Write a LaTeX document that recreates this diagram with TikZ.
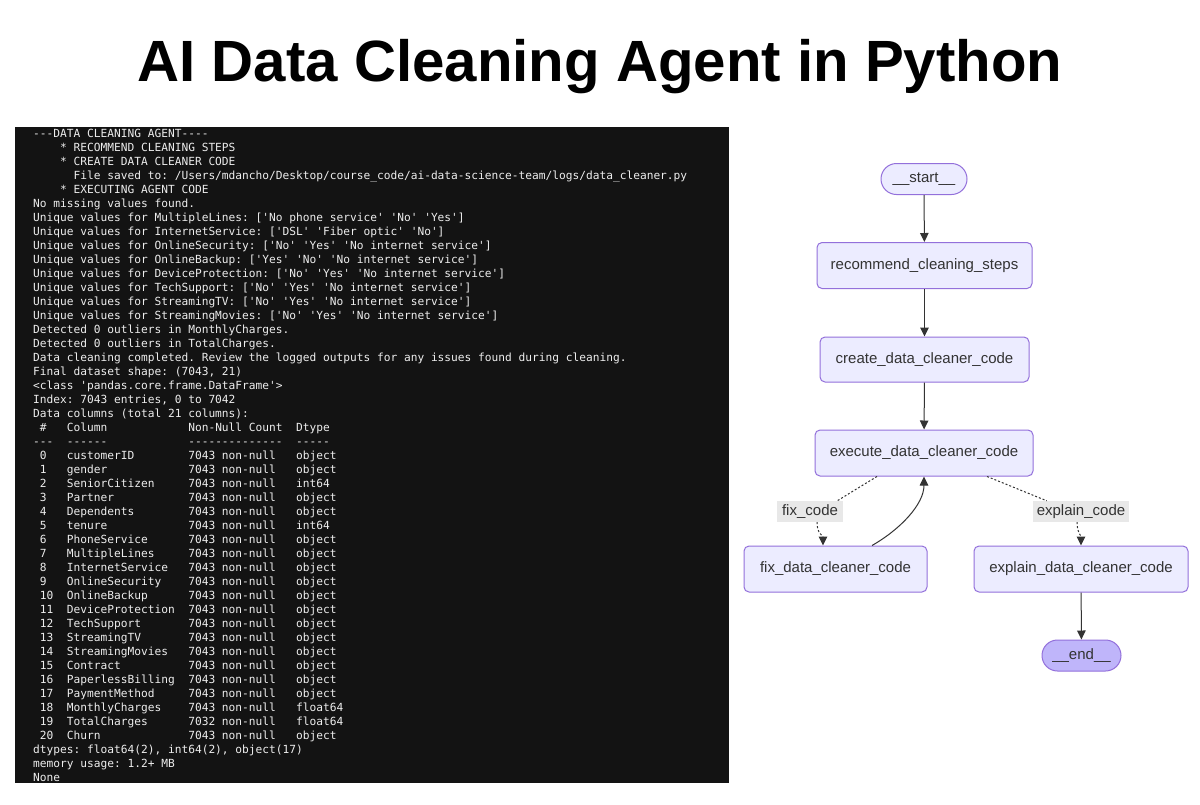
\documentclass[tikz,border=0pt]{standalone}
\usepackage{fontspec}
\setmainfont{Liberation Sans}
\setmonofont{DejaVu Sans Mono}
\usetikzlibrary{arrows.meta}
\definecolor{termbg}{HTML}{131313}
\definecolor{termfg}{HTML}{EDEDED}
\definecolor{nodefill}{HTML}{ECECFF}
\definecolor{nodedraw}{HTML}{9370DB}
\definecolor{endfill}{HTML}{BFB5FA}
\definecolor{edgec}{HTML}{333333}
\definecolor{txtc}{HTML}{333333}
\definecolor{lblfill}{HTML}{E8E8E8}
\newcommand\sk[1]{\hspace*{#1\fontcharwd\font`\0}}
\begin{document}
\begin{tikzpicture}[x=1pt,y=-1pt,
  logline/.style={anchor=base west, inner sep=0pt, text=termfg, font=\ttfamily\fontsize{11.2}{14}\selectfont},
  gbox/.style={draw=nodedraw, fill=nodefill, line width=1pt, rounded corners=5pt, text=txtc,
    font=\fontsize{15}{18}\selectfont, inner sep=0pt, minimum height=46pt},
  gterm/.style={gbox, rounded corners=15.5pt, minimum height=31pt},
  edge/.style={draw=edgec, line width=1pt, -{Triangle[length=9pt,width=8.5pt]}},
  cond/.style={edge, dash pattern=on 2pt off 2pt},
  elabel/.style={fill=lblfill, text=txtc, font=\fontsize{15}{18}\selectfont, inner sep=0pt, minimum height=21pt}
]
\useasboundingbox (0,0) rectangle (1200,804);
\fill[white] (0,0) rectangle (1200,804);

% title
\node[anchor=base, inner sep=0pt, font=\fontsize{58.2}{60}\selectfont\bfseries] (title) at (600,81) {AI Data Cleaning Agent in Python};

% terminal
\fill[termbg] (15,127) rectangle (729,783);
\foreach \t [count=\i] in {
{---DATA CLEANING AGENT----},
{\sk{4}* RECOMMEND CLEANING STEPS},
{\sk{4}* CREATE DATA CLEANER CODE},
{\sk{6}File saved to: /Users/mdancho/Desktop/course\_code/ai-data-science-team/logs/data\_cleaner.py},
{\sk{4}* EXECUTING AGENT CODE},
{No missing values found.},
{Unique values for MultipleLines: ['No phone service' 'No' 'Yes']},
{Unique values for InternetService: ['DSL' 'Fiber optic' 'No']},
{Unique values for OnlineSecurity: ['No' 'Yes' 'No internet service']},
{Unique values for OnlineBackup: ['Yes' 'No' 'No internet service']},
{Unique values for DeviceProtection: ['No' 'Yes' 'No internet service']},
{Unique values for TechSupport: ['No' 'Yes' 'No internet service']},
{Unique values for StreamingTV: ['No' 'Yes' 'No internet service']},
{Unique values for StreamingMovies: ['No' 'Yes' 'No internet service']},
{Detected 0 outliers in MonthlyCharges.},
{Detected 0 outliers in TotalCharges.},
{Data cleaning completed. Review the logged outputs for any issues found during cleaning.},
{Final dataset shape: (7043, 21)},
{<class 'pandas.core.frame.DataFrame'>},
{Index: 7043 entries, 0 to 7042},
{Data columns (total 21 columns):},
{\sk{1}\#\sk{3}Column\sk{12}Non-Null Count\sk{2}Dtype},
{---\sk{2}------\sk{12}--------------\sk{2}-----},
{\sk{1}0\sk{3}customerID\sk{8}7043 non-null\sk{3}object},
{\sk{1}1\sk{3}gender\sk{12}7043 non-null\sk{3}object},
{\sk{1}2\sk{3}SeniorCitizen\sk{5}7043 non-null\sk{3}int64},
{\sk{1}3\sk{3}Partner\sk{11}7043 non-null\sk{3}object},
{\sk{1}4\sk{3}Dependents\sk{8}7043 non-null\sk{3}object},
{\sk{1}5\sk{3}tenure\sk{12}7043 non-null\sk{3}int64},
{\sk{1}6\sk{3}PhoneService\sk{6}7043 non-null\sk{3}object},
{\sk{1}7\sk{3}MultipleLines\sk{5}7043 non-null\sk{3}object},
{\sk{1}8\sk{3}InternetService\sk{3}7043 non-null\sk{3}object},
{\sk{1}9\sk{3}OnlineSecurity\sk{4}7043 non-null\sk{3}object},
{\sk{1}10\sk{2}OnlineBackup\sk{6}7043 non-null\sk{3}object},
{\sk{1}11\sk{2}DeviceProtection\sk{2}7043 non-null\sk{3}object},
{\sk{1}12\sk{2}TechSupport\sk{7}7043 non-null\sk{3}object},
{\sk{1}13\sk{2}StreamingTV\sk{7}7043 non-null\sk{3}object},
{\sk{1}14\sk{2}StreamingMovies\sk{3}7043 non-null\sk{3}object},
{\sk{1}15\sk{2}Contract\sk{10}7043 non-null\sk{3}object},
{\sk{1}16\sk{2}PaperlessBilling\sk{2}7043 non-null\sk{3}object},
{\sk{1}17\sk{2}PaymentMethod\sk{5}7043 non-null\sk{3}object},
{\sk{1}18\sk{2}MonthlyCharges\sk{4}7043 non-null\sk{3}float64},
{\sk{1}19\sk{2}TotalCharges\sk{6}7032 non-null\sk{3}float64},
{\sk{1}20\sk{2}Churn\sk{13}7043 non-null\sk{3}object},
{dtypes: float64(2), int64(2), object(17)},
{memory usage: 1.2+ MB},
{None}}
  \node[logline] (l\i) at (33,{137+14.0*(\i-1)}) {\t};

% graph nodes
\node[gterm, minimum width=86pt] (start) at (924,179) {\_\_start\_\_};
\node[gbox, minimum width=215pt] (rec) at (924.5,265.5) {recommend\_cleaning\_steps};
\node[gbox, minimum width=209pt, minimum height=45pt] (create) at (924.5,359.5) {create\_data\_cleaner\_code};
\node[gbox, minimum width=218pt] (exec) at (924,453) {execute\_data\_cleaner\_code};
\node[gbox, minimum width=183pt] (fix) at (835.5,569) {fix\_data\_cleaner\_code};
\node[gbox, minimum width=214pt] (expl) at (1081,569) {explain\_data\_cleaner\_code};
\node[gterm, fill=endfill, minimum width=79pt] (end) at (1081.5,655.5) {\_\_end\_\_};

% edge labels
\node[elabel, minimum width=66pt] (fixl) at (810,511.5) {fix\_code};
\node[elabel, minimum width=96pt] (explainl) at (1081,511.5) {explain\_code};

% edges
\draw[edge] (start) -- (rec);
\draw[edge] (rec) -- (create);
\draw[edge] (create) -- (exec);
\draw[edge] (expl) -- (end);
\draw[cond, -] ([xshift=-47pt]exec.south) .. controls +(-15,9) and +(10,-6) .. ([xshift=-6pt]fixl.north east);
\draw[cond] ([xshift=7pt]fixl.south) .. controls +(0,12) and +(0,-10) .. ([xshift=-12.5pt]fix.north);
\draw[cond, -] ([xshift=63pt]exec.south) .. controls +(20,8) and +(-15,-6) .. ([xshift=14pt]explainl.north west);
\draw[cond] ([xshift=-4pt]explainl.south) .. controls +(0,10) and +(0,-10) .. (expl.north);
\draw[edge] ([xshift=36.5pt]fix.north) .. controls +(28,-16) and +(0,28) .. (exec.south);
\end{tikzpicture}
\end{document}
